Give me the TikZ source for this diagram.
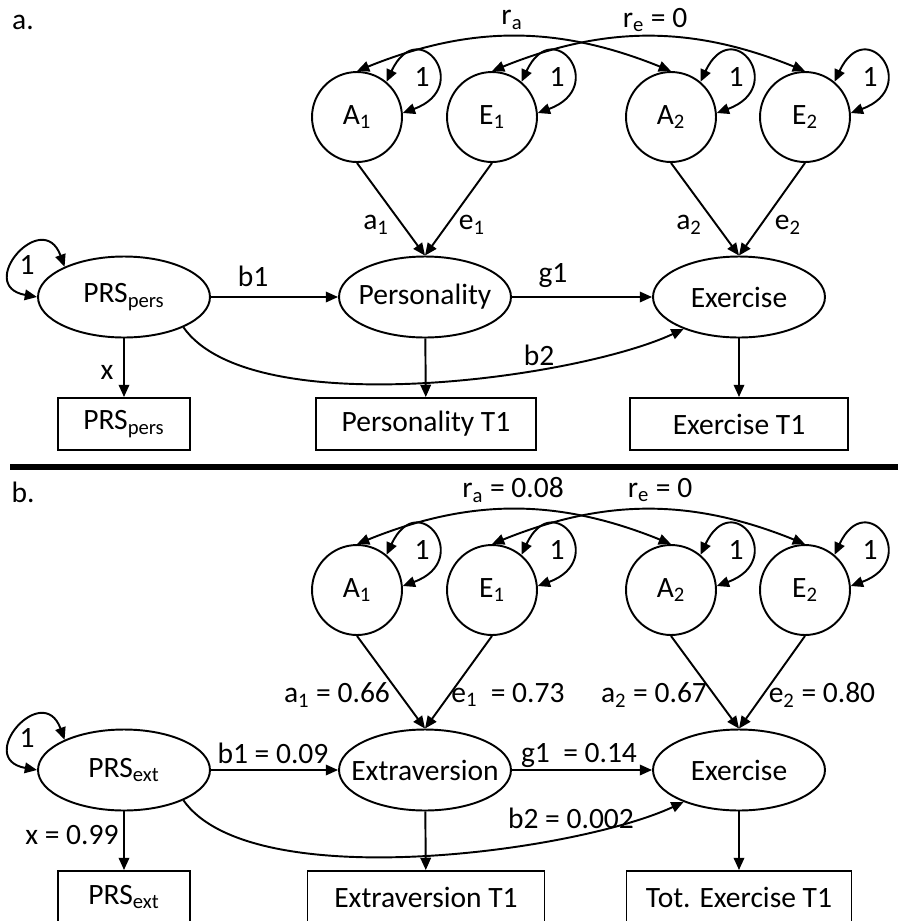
\documentclass[tikz,border=0pt]{standalone}
\usepackage{fontspec}
\setmainfont{Carlito}
\usetikzlibrary{shapes.geometric,arrows.meta}

\tikzset{
  var/.style={circle, draw, line width=1.1pt, minimum size=1.8cm, inner sep=0pt},
  latent/.style={ellipse, draw, line width=1.1pt, minimum width=3.44cm, minimum height=1.62cm, inner xsep=-9pt, inner ysep=0pt},
  obs/.style={rectangle, draw, line width=1.1pt, minimum height=1.04cm, inner sep=0pt},
  arr/.style={-{Triangle[length=7pt,width=6pt]}, line width=1.1pt},
  dbl/.style={{Triangle[length=7pt,width=6pt]}-{Triangle[length=7pt,width=6pt]}, line width=1.1pt},
  lbl/.style={inner sep=0pt}
}

\begin{document}
\begin{tikzpicture}[x=0.02cm, y=-0.02cm, font=\fontsize{16.8}{20}\selectfont]

      \clip (0,0) rectangle (898,921);

      % panel a
      \node[lbl] (tagA) at (23,22) {a.};

      \node[var] (A1) at (357,117) {A\textsubscript{1}};
      \node[var] (E1) at (492,117) {E\textsubscript{1}};
      \node[var] (A2) at (671,117) {A\textsubscript{2}};
      \node[var] (E2) at (805,117) {E\textsubscript{2}};

      \node[latent] (PRS) at (124,297) {PRS\textsubscript{pers}};
      \node[latent] (Pers) at (425,297) {Personality};
      \node[latent] (Ex) at (739,297) {Exercise};

      \node[obs, minimum width=2.64cm] (PRSobs) at (124,424) {PRS\textsubscript{pers}};
      \node[obs, minimum width=4.4cm] (PersT1) at (426,424) {Personality T1};
      \node[obs, minimum width=4.36cm] (ExT1) at (739,424) {Exercise T1};

      \draw[dbl] (A1.north) to[bend left=22] (A2.north);
      \draw[dbl] (E1.north) to[bend left=22] (E2.north);
      \foreach \v in {A1,E1,A2,E2}
        \draw[dbl] (\v.50) to[out=65,in=20,looseness=5.5] (\v.5);
      \draw[dbl] (PRS.west) to[out=170,in=110,looseness=4] (PRS.153);

      \draw[arr] (A1.south) -- (Pers.north);
      \draw[arr] (E1.south) -- (Pers.north);
      \draw[arr] (A2.south) -- (Ex.north);
      \draw[arr] (E2.south) -- (Ex.north);
      \draw[arr] (PRS) -- (Pers);
      \draw[arr] (Pers) -- (Ex);
      \draw[arr] (PRS.-27) to[out=-55,in=205,looseness=0.6] (Ex.210);
      \draw[arr] (PRS) -- (PRSobs);
      \draw[arr] (Pers) -- (PersT1);
      \draw[arr] (Ex) -- (ExT1);

      \node[lbl] at (512,20) {r\textsubscript{a}};
      \node[lbl] at (655,20) {r\textsubscript{e} = 0};
      \node[lbl] at (422,77) {1};
      \node[lbl] at (557,77) {1};
      \node[lbl] at (736,77) {1};
      \node[lbl] at (870,77) {1};
      \node[lbl] at (27,265) {1};
      \node[lbl] at (376,225) {a\textsubscript{1}};
      \node[lbl] at (472,225) {e\textsubscript{1}};
      \node[lbl] at (689,225) {a\textsubscript{2}};
      \node[lbl] at (788,225) {e\textsubscript{2}};
      \node[lbl] at (253,276) {b1};
      \node[lbl] at (553,276) {g1};
      \node[lbl] at (539,355) {b2};
      \node[lbl] at (107,372) {x};

      \draw[line width=0.13cm] (10,467) -- (898,467);

      % panel b
      \node[lbl] (tagB) at (23,492) {b.};

      \node[var] (A1b) at (357,590) {A\textsubscript{1}};
      \node[var] (E1b) at (492,590) {E\textsubscript{1}};
      \node[var] (A2b) at (671,590) {A\textsubscript{2}};
      \node[var] (E2b) at (805,590) {E\textsubscript{2}};

      \node[latent] (PRSb) at (124,770) {PRS\textsubscript{ext}};
      \node[latent] (Extra) at (425,770) {Extraversion};
      \node[latent] (Exb) at (739,770) {Exercise};

      \node[obs, minimum width=2.64cm] (PRSobsb) at (124,897) {PRS\textsubscript{ext}};
      \node[obs, minimum width=4.74cm] (ExtraT1) at (426,897) {Extraversion T1};
      \node[obs, minimum width=4.5cm] (TotExT1) at (739,897) {Tot. Exercise T1};

      \draw[dbl] (A1b.north) to[bend left=22] (A2b.north);
      \draw[dbl] (E1b.north) to[bend left=22] (E2b.north);
      \foreach \v in {A1b,E1b,A2b,E2b}
        \draw[dbl] (\v.50) to[out=65,in=20,looseness=5.5] (\v.5);
      \draw[dbl] (PRSb.west) to[out=170,in=110,looseness=4] (PRSb.153);

      \draw[arr] (A1b.south) -- (Extra.north);
      \draw[arr] (E1b.south) -- (Extra.north);
      \draw[arr] (A2b.south) -- (Exb.north);
      \draw[arr] (E2b.south) -- (Exb.north);
      \draw[arr] (PRSb) -- (Extra);
      \draw[arr] (Extra) -- (Exb);
      \draw[arr] (PRSb.-27) to[out=-55,in=205,looseness=0.6] (Exb.210);
      \draw[arr] (PRSb) -- (PRSobsb);
      \draw[arr] (Extra) -- (ExtraT1);
      \draw[arr] (Exb) -- (TotExT1);

      \node[lbl] at (513,490) {r\textsubscript{a} = 0.08};
      \node[lbl] at (660,490) {r\textsubscript{e} = 0};
      \node[lbl] at (422,550) {1};
      \node[lbl] at (557,550) {1};
      \node[lbl] at (736,550) {1};
      \node[lbl] at (870,550) {1};
      \node[lbl] at (27,738) {1};
      \node[lbl] at (337,695) {a\textsubscript{1} = 0.66};
      \node[lbl] at (508,695) {e\textsubscript{1}\ \ = 0.73};
      \node[lbl] at (654,695) {a\textsubscript{2} = 0.67};
      \node[lbl] at (822,695) {e\textsubscript{2} = 0.80};
      \node[lbl] at (273,753) {b1 = 0.09};
      \node[lbl] at (579,755) {g1\ \ = 0.14};
      \node[lbl] at (571,818) {b2 = 0.002};
      \node[lbl] at (72,835) {x = 0.99};

    \end{tikzpicture}
\end{document}
